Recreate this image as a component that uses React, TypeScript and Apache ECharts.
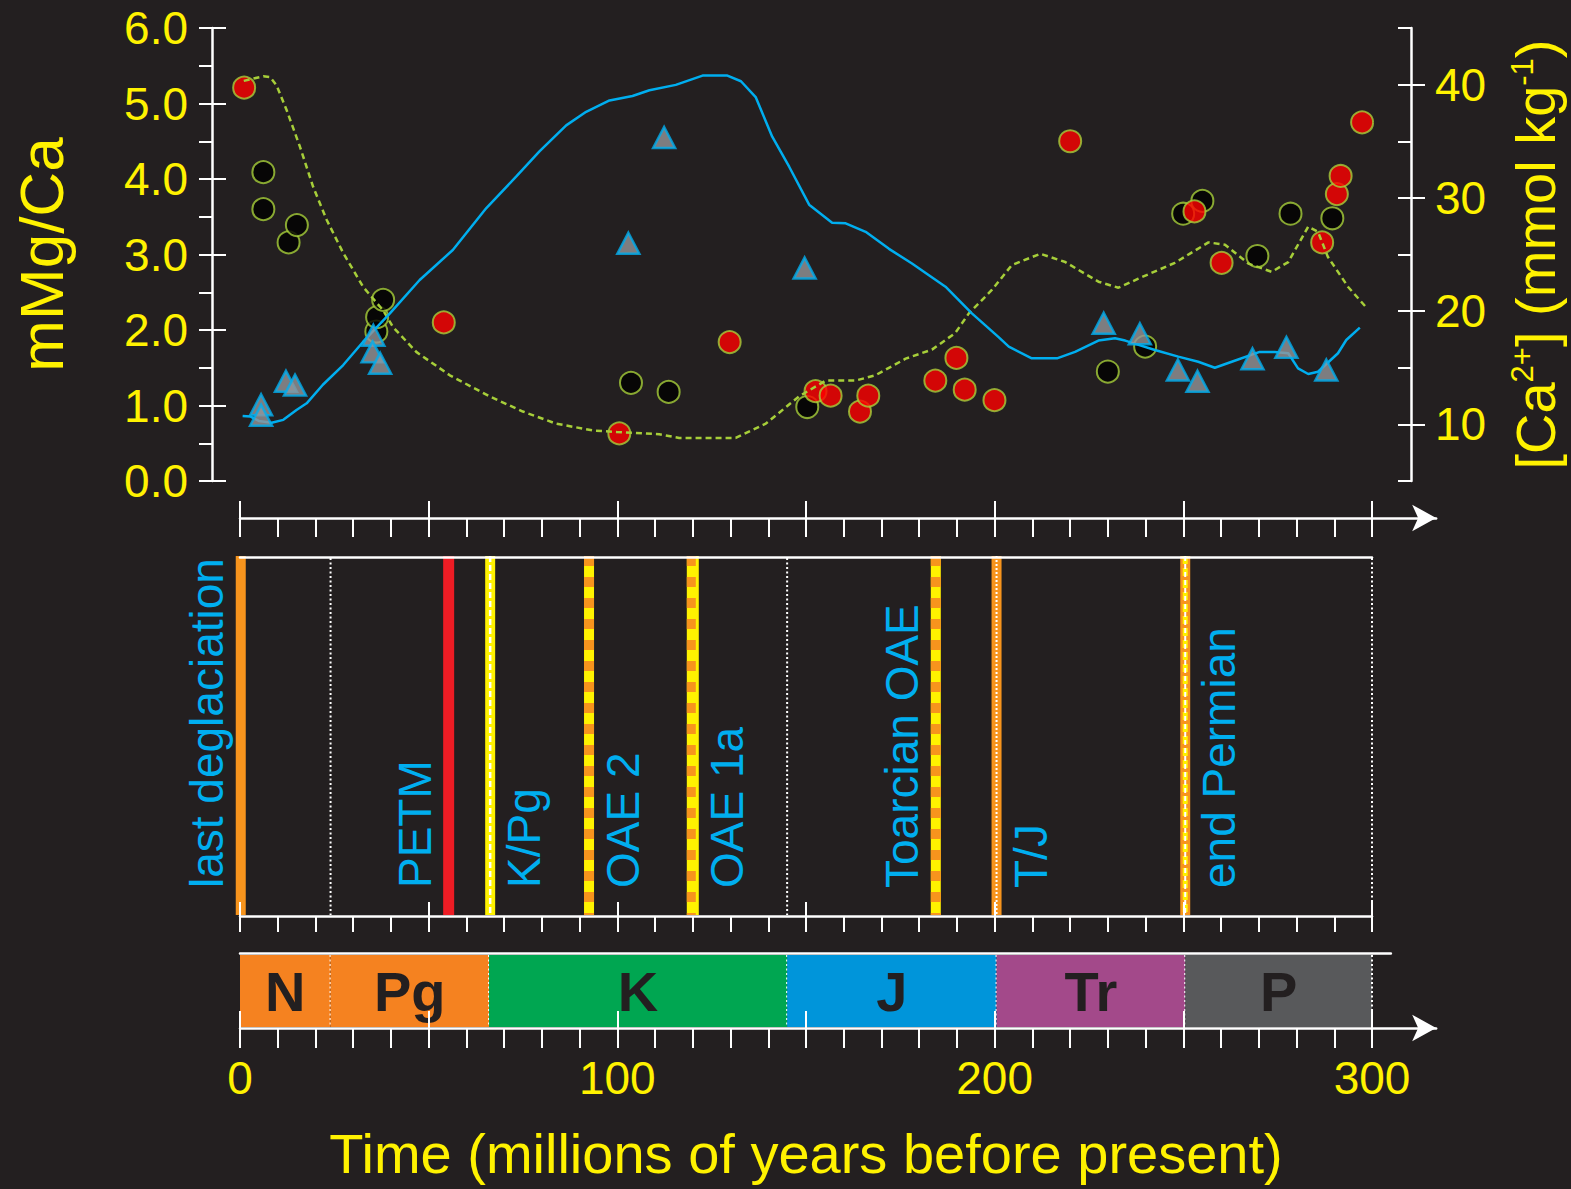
import React, { useEffect, useRef } from 'react';
import * as echarts from 'echarts';

// ---------------- data ----------------
const blackAges = [6.2, 6.2, 12.9, 15.1, 36.2, 36.4, 38, 103.8, 113.8, 150.6, 230.4, 240.3, 250.4, 255.5, 270.1, 278.9, 290.0];
const blackMgCa = [4.09, 3.6, 3.16, 3.39, 1.98, 2.17, 2.4, 1.3, 1.18, 0.98, 1.45, 1.78, 3.54, 3.71, 2.98, 3.54, 3.48];

const redAges = [1.1, 54.1, 100.7, 130, 152.8, 156.8, 164.6, 166.8, 184.6, 190.2, 192.4, 200.3, 220.4, 253.4, 260.6, 287.3, 291.2, 292.2, 297.9];
const redMgCa = [5.21, 2.1, 0.63, 1.84, 1.19, 1.13, 0.92, 1.13, 1.33, 1.63, 1.21, 1.07, 4.5, 3.57, 2.89, 3.16, 3.8, 4.04, 4.75];

const triAges = [5.6, 5.6, 12.2, 14.6, 35.4, 35.2, 37.2, 103.1, 112.6, 149.9, 229.3, 238.9, 249.0, 254.2, 268.8, 277.8, 288.4];
const triMgCa = [1.01, 0.87, 1.32, 1.27, 1.93, 1.71, 1.56, 3.15, 4.55, 2.82, 2.09, 1.95, 1.47, 1.32, 1.62, 1.77, 1.47];

const mgcaModelAges = [1, 3.5, 6.2, 8, 9.7, 12.4, 15.9, 19.4, 23, 27.4, 32.7, 38, 40.6, 46.8, 55.7, 66.3, 75.1, 83.9, 93.6, 100, 111.3, 116.6, 131.6, 139.6, 148.4, 155.5, 163.4, 168.7, 176.7, 183.7, 189.9, 193.5, 199.6, 204.9, 212.5, 219.1, 227.9, 233.2, 238.5, 248.2, 257.1, 261.5, 267.7, 273.9, 278.3, 283.6, 286.2, 288.8, 294.2, 299];
const mgcaModel = [5.3, 5.33, 5.36, 5.35, 5.24, 4.91, 4.43, 3.9, 3.46, 3.02, 2.57, 2.26, 2.04, 1.71, 1.4, 1.12, 0.92, 0.76, 0.67, 0.65, 0.62, 0.57, 0.57, 0.76, 1.12, 1.33, 1.33, 1.4, 1.62, 1.74, 1.96, 2.22, 2.53, 2.86, 3.01, 2.9, 2.64, 2.56, 2.68, 2.89, 3.16, 3.13, 2.88, 2.77, 2.9, 3.37, 3.3, 2.97, 2.57, 2.3];

const caModelAges = [0.7, 2.7, 5, 8.4, 11.5, 15, 17.7, 22, 27.4, 32.7, 39.8, 47.7, 56.5, 65.4, 73.3, 79.5, 86.6, 91.9, 98.1, 104.2, 108.7, 115.7, 122.8, 129.4, 133, 136.9, 141.3, 145.8, 151.1, 157.2, 160.8, 166.1, 172.3, 178.4, 187.3, 194.3, 201.4, 204.1, 210.2, 216.9, 221.7, 227.9, 232.3, 235, 242.9, 249.1, 254.4, 258.8, 263.3, 270.7, 274.7, 278.3, 280.9, 283.6, 286.2, 291.5, 293.7, 297.3];
const caModel = [10.74, 10.7, 10.3, 10.15, 10.4, 11.27, 11.86, 13.5, 15.24, 17.3, 19.8, 22.75, 25.4, 29.1, 31.87, 34.1, 36.4, 37.6, 38.6, 39.0, 39.5, 39.98, 40.8, 40.8, 40.3, 38.9, 35.4, 32.75, 29.4, 27.8, 27.75, 27.0, 25.5, 24.2, 22.16, 19.8, 17.7, 16.86, 15.83, 15.83, 16.4, 17.4, 17.6, 17.4, 16.57, 15.98, 15.53, 15.0, 15.53, 16.4, 16.4, 16.28, 14.95, 14.45, 14.65, 16.28, 17.45, 18.54];

const eventNames = ['last deglaciation', 'PETM', 'K/Pg', 'OAE 2', 'OAE 1a', 'Toarcian OAE', 'T/J', 'end Permian'];
const eventAges = [0.2, 55.3, 66.3, 92.5, 120, 184.4, 200.5, 250.5];

const periodLabels = ['N', 'Pg', 'K', 'J', 'Tr', 'P'];
const periodStart = [0, 24, 66, 145, 200.5, 250.5];
const periodEnd = [24, 66, 145, 200.5, 250.5, 300];

const leftTickLabels = [0, 1, 2, 3, 4, 5, 6];
const rightTickLabels = [10, 20, 30, 40];
const timeTickLabels = [0, 100, 200, 300];
const timeMinorTicks = Array.from({ length: 31 }, (_, i) => i * 10);
const timeMajorTicks = [0, 50, 100, 150, 200, 250, 300];

// ---------------- styles / layout ----------------
const BG = '#231F20';
const YELLOW = '#FFF200';
const BLUE = '#00AEEF';
const GREEN = '#A6CE39';
const WHITE = '#FFFFFF';
const ORANGE = '#F7941D';
const RED = '#ED1C24';
const FONT = '"Liberation Sans", Arial, Helvetica, sans-serif';

const X0 = 240;
const PXU = 1132 / 300;
const ARROW_MAX = 317;
const PERIOD_LINE_MAX = 305;

const EVENT_STYLE = [
  { kind: 'orange', side: -1 },
  { kind: 'red', side: -1 },
  { kind: 'kpg', side: 1 },
  { kind: 'oae', side: 1 },
  { kind: 'oae1a', side: 1 },
  { kind: 'oae', side: -1 },
  { kind: 'tj', side: 1 },
  { kind: 'permian', side: 1 },
];
const PERIOD_COLORS = ['#F58220', '#F58220', '#00A651', '#0095DA', '#A3498A', '#58595B'];

const tickStyle = { color: WHITE, width: 2 };
const lineStyleW = { color: WHITE, width: 2.5 };

function buildOption() {
  const grids = [
    { left: X0, top: 28, width: 300 * PXU, height: 453 },
    { left: X0, top: 500, width: ARROW_MAX * PXU, height: 18 },
    { left: X0, top: 557, width: 300 * PXU, height: 359 },
    { left: X0, top: 953, width: PERIOD_LINE_MAX * PXU, height: 75 },
    { left: X0, top: 1010, width: ARROW_MAX * PXU, height: 18 },
  ];

  const hiddenX = (g: number, max: number) => ({
    type: 'value', gridIndex: g, min: 0, max, show: false,
    axisLine: { onZero: false }, splitLine: { show: false },
  });

  const xAxis: any[] = [
    hiddenX(0, 300),
    // top arrow axis (y = 518)
    {
      type: 'value', gridIndex: 1, min: 0, max: ARROW_MAX, position: 'bottom', z: 10,
      axisLine: { show: true, onZero: false, lineStyle: lineStyleW, symbol: ['none', 'arrow'], symbolSize: [20, 24] },
      axisTick: { show: true, inside: false, length: 19, customValues: timeMinorTicks, lineStyle: tickStyle },
      axisLabel: { show: false }, splitLine: { show: false },
    },
    {
      type: 'value', gridIndex: 1, min: 0, max: ARROW_MAX, position: 'bottom', z: 10,
      axisLine: { show: false, onZero: false },
      axisTick: { show: true, inside: true, length: 17, customValues: timeMajorTicks, lineStyle: tickStyle },
      axisLabel: { show: false }, splitLine: { show: false },
    },
    // events panel
    {
      type: 'value', gridIndex: 2, min: 0, max: 300, position: 'top', z: 10,
      axisLine: { show: true, onZero: false, lineStyle: lineStyleW },
      axisTick: { show: false }, axisLabel: { show: false }, splitLine: { show: false },
    },
    {
      type: 'value', gridIndex: 2, min: 0, max: 300, interval: 10, position: 'bottom', z: 10,
      axisLine: { show: true, onZero: false, lineStyle: lineStyleW },
      axisTick: { show: true, inside: false, length: 16, lineStyle: tickStyle },
      axisLabel: { show: false }, splitLine: { show: false },
    },
    {
      type: 'value', gridIndex: 2, min: 0, max: 300, interval: 50, position: 'bottom', z: 10,
      axisLine: { show: false, onZero: false },
      axisTick: { show: true, inside: true, length: 14, lineStyle: tickStyle },
      axisLabel: { show: false }, splitLine: { show: false },
    },
    // periods panel top line
    {
      type: 'value', gridIndex: 3, min: 0, max: PERIOD_LINE_MAX, position: 'top', z: 10,
      axisLine: { show: true, onZero: false, lineStyle: lineStyleW },
      axisTick: { show: false }, axisLabel: { show: false }, splitLine: { show: false },
    },
    // bottom arrow axis (y = 1028) with labels
    {
      type: 'value', gridIndex: 4, min: 0, max: ARROW_MAX, position: 'bottom', z: 10,
      axisLine: { show: true, onZero: false, lineStyle: lineStyleW, symbol: ['none', 'arrow'], symbolSize: [20, 24] },
      axisTick: { show: true, inside: false, length: 20, customValues: timeMinorTicks, lineStyle: tickStyle },
      axisLabel: {
        show: true, customValues: timeTickLabels, color: YELLOW, fontSize: 46, fontFamily: FONT, margin: 27,
        formatter: (v: number) => String(v),
      },
      splitLine: { show: false },
    },
    {
      type: 'value', gridIndex: 4, min: 0, max: ARROW_MAX, position: 'bottom', z: 10,
      axisLine: { show: false, onZero: false },
      axisTick: { show: true, inside: true, length: 17, customValues: timeMajorTicks, lineStyle: tickStyle },
      axisLabel: { show: false }, splitLine: { show: false },
    },
  ];

  const hiddenY = (g: number) => ({
    type: 'value', gridIndex: g, min: 0, max: 1, show: false,
    axisLine: { onZero: false }, splitLine: { show: false },
  });

  const yAxis: any[] = [
    {
      type: 'value', gridIndex: 0, min: 0, max: 6, interval: 0.5, position: 'left', offset: 28,
      axisLine: { show: true, onZero: false, lineStyle: lineStyleW },
      axisTick: { show: true, inside: false, length: 13, lineStyle: tickStyle },
      axisLabel: {
        show: true, color: YELLOW, fontSize: 46, fontFamily: FONT, margin: 24,
        formatter: (v: number) => (leftTickLabels.some((t) => Math.abs(t - v) < 1e-6) ? v.toFixed(1) : ''),
      },
      splitLine: { show: false },
      name: 'mMg/Ca', nameLocation: 'middle', nameRotate: 90, nameGap: 140,
      nameTextStyle: { color: YELLOW, fontSize: 62, fontFamily: FONT },
    },
    {
      type: 'value', gridIndex: 0, min: 0, max: 6, interval: 1, position: 'left', offset: 28,
      axisLine: { show: false, onZero: false },
      axisTick: { show: true, inside: true, length: 14, lineStyle: tickStyle },
      axisLabel: { show: false }, splitLine: { show: false },
    },
    {
      type: 'value', gridIndex: 0, min: 5, max: 45, interval: 5, position: 'right', offset: 41,
      axisLine: { show: true, onZero: false, lineStyle: lineStyleW },
      axisTick: { show: true, inside: true, length: 13, lineStyle: tickStyle },
      axisLabel: {
        show: true, color: YELLOW, fontSize: 46, fontFamily: FONT, margin: 24,
        formatter: (v: number) => (rightTickLabels.indexOf(Math.round(v)) >= 0 && Math.abs(v - Math.round(v)) < 1e-6 ? String(Math.round(v)) : ''),
      },
      splitLine: { show: false },
      name: '[Ca{sup|2+}] (mmol kg{sup|-1})', nameLocation: 'middle', nameRotate: 90, nameGap: 96,
      nameTextStyle: {
        color: YELLOW, fontSize: 56, fontFamily: FONT,
        rich: { sup: { color: YELLOW, fontSize: 31, fontFamily: FONT, verticalAlign: 'top' } },
      },
    },
    {
      type: 'value', gridIndex: 0, min: 5, max: 45, position: 'right', offset: 41,
      axisLine: { show: false, onZero: false },
      axisTick: { show: true, inside: false, length: 14, customValues: rightTickLabels, lineStyle: tickStyle },
      axisLabel: { show: false }, splitLine: { show: false },
    },
    hiddenY(1),
    hiddenY(2),
    hiddenY(3),
    hiddenY(4),
  ];

  const circleStyle = (fill: string) => ({ color: fill, borderColor: GREEN, borderWidth: 2 });

  const eventsRender = (params: any, api: any) => {
    const age = api.value(0);
    const idx = api.value(1);
    const top = api.coord([age, 1]);
    const bot = api.coord([age, 0]);
    const x = top[0];
    const y1 = top[1] - 1;
    const y2 = bot[1] - 1;
    const st = EVENT_STYLE[idx];
    const ch: any[] = [];
    const rect = (w: number, fill: string, dx = 0) => ({
      type: 'rect', shape: { x: x - w / 2 + dx, y: y1, width: w, height: y2 - y1 }, style: { fill },
    });
    const vline = (w: number, stroke: string, dash: number[] | null, dx = 0) => ({
      type: 'line', shape: { x1: x + dx, y1, x2: x + dx, y2 },
      style: { stroke, lineWidth: w, lineDash: dash || undefined, fill: null },
    });
    switch (st.kind) {
      case 'orange': ch.push(rect(10, ORANGE)); break;
      case 'red': ch.push(rect(11, RED)); break;
      case 'kpg': ch.push(rect(10, YELLOW)); ch.push(vline(2.5, WHITE, [6, 3])); break;
      case 'oae': ch.push(rect(10, YELLOW)); ch.push(vline(10, ORANGE, [10, 11])); break;
      case 'oae1a': ch.push(rect(12, YELLOW)); ch.push(vline(9, ORANGE, [10, 11], -1.5)); break;
      case 'tj': ch.push(rect(10, ORANGE)); ch.push(vline(2, WHITE, [2, 2])); break;
      case 'permian':
        ch.push(rect(10, ORANGE));
        ch.push(vline(5, YELLOW, [8, 4]));
        ch.push(vline(2, WHITE, [5, 3]));
        break;
    }
    ch.push({
      type: 'text', x: x + st.side * 34, y: bot[1] - 28, rotation: Math.PI / 2,
      style: {
        text: eventNames[idx], fill: BLUE, fontSize: 46, fontFamily: FONT,
        align: 'left', verticalAlign: 'middle', textAlign: 'left', textVerticalAlign: 'middle',
      },
    });
    return { type: 'group', children: ch };
  };

  const boundaryRender = (params: any, api: any) => {
    const b = api.value(0);
    const top = api.coord([b, 1]);
    const bot = api.coord([b, 0]);
    return {
      type: 'line', shape: { x1: top[0], y1: top[1] + 1, x2: top[0], y2: bot[1] - 1 },
      style: { stroke: WHITE, lineWidth: 2, lineDash: [2, 2.5], fill: null },
    };
  };

  const periodRender = (params: any, api: any) => {
    const s = api.value(0);
    const e = api.value(1);
    const idx = api.value(2);
    const p1 = api.coord([s, 1]);
    const p2 = api.coord([e, 0]);
    return {
      type: 'group',
      children: [
        {
          type: 'rect', shape: { x: p1[0], y: p1[1] + 2, width: p2[0] - p1[0], height: p2[1] - p1[1] - 3 },
          style: { fill: PERIOD_COLORS[idx] },
        },
        {
          type: 'line', shape: { x1: p2[0], y1: p1[1] + 2, x2: p2[0], y2: p2[1] - 1 },
          style: { stroke: WHITE, lineWidth: 2, lineDash: [2, 2.5], fill: null },
        },
        {
          type: 'text', x: (p1[0] + p2[0]) / 2, y: (p1[1] + p2[1]) / 2 + 1,
          style: {
            text: periodLabels[idx], fill: '#231F20', fontSize: 56, fontWeight: 'bold', fontFamily: FONT,
            align: 'center', verticalAlign: 'middle', textAlign: 'center', textVerticalAlign: 'middle',
          },
        },
      ],
    };
  };

  const series: any[] = [
    {
      type: 'scatter', xAxisIndex: 0, yAxisIndex: 0, symbol: 'circle', symbolSize: 22,
      itemStyle: circleStyle('#000000'), z: 3,
      data: blackAges.map((a, i) => [a, blackMgCa[i]]),
    },
    {
      type: 'scatter', xAxisIndex: 0, yAxisIndex: 0, symbol: 'circle', symbolSize: 22,
      itemStyle: circleStyle('#FF0000'), z: 3,
      data: redAges.map((a, i) => [a, redMgCa[i]]),
    },
    {
      type: 'line', xAxisIndex: 0, yAxisIndex: 0, showSymbol: false, symbol: 'none', z: 4,
      lineStyle: { color: GREEN, width: 2.5, type: [6, 4] },
      data: mgcaModelAges.map((a, i) => [a, mgcaModel[i]]),
    },
    {
      type: 'line', xAxisIndex: 0, yAxisIndex: 2, showSymbol: false, symbol: 'none', z: 4,
      lineStyle: { color: BLUE, width: 2.5 },
      data: caModelAges.map((a, i) => [a, caModel[i]]),
    },
    {
      type: 'scatter', xAxisIndex: 0, yAxisIndex: 0, symbol: 'triangle', symbolSize: [22, 21], z: 5,
      itemStyle: { color: '#939598', borderColor: BLUE, borderWidth: 2.5 },
      data: triAges.map((a, i) => [a, triMgCa[i]]),
    },
    {
      type: 'custom', xAxisIndex: 3, yAxisIndex: 5, clip: false, z: 2,
      renderItem: boundaryRender,
      encode: { x: 0 },
      data: periodEnd.map((e) => [e, 0]),
    },
    {
      type: 'custom', xAxisIndex: 3, yAxisIndex: 5, clip: false, z: 3,
      renderItem: eventsRender,
      encode: { x: 0 },
      data: eventAges.map((a, i) => [a, i]),
    },
    {
      type: 'custom', xAxisIndex: 6, yAxisIndex: 6, clip: false, z: 2,
      renderItem: periodRender,
      encode: { x: [0, 1] },
      data: periodStart.map((s, i) => [s, periodEnd[i], i]),
    },
  ];

  return {
    animation: false,
    backgroundColor: BG,
    textStyle: { fontFamily: FONT },
    grid: grids,
    xAxis,
    yAxis,
    series,
    graphic: [
      {
        type: 'text', x: X0 + 150 * PXU, y: 1153, z: 10,
        style: {
          text: 'Time (millions of years before present)', fill: YELLOW, fontSize: 56, fontFamily: FONT,
          align: 'center', verticalAlign: 'middle', textAlign: 'center', textVerticalAlign: 'middle',
        },
      },
    ],
  };
}

export default function App() {
  const ref = useRef<HTMLDivElement>(null);
  useEffect(() => {
    document.body.style.margin = '0';
    document.body.style.background = BG;
    const chart = echarts.init(ref.current as HTMLDivElement, null, { renderer: 'svg' });
    chart.setOption(buildOption() as any);
    return () => chart.dispose();
  }, []);
  return <div ref={ref} style={{ width: 1571, height: 1189 }} />;
}
